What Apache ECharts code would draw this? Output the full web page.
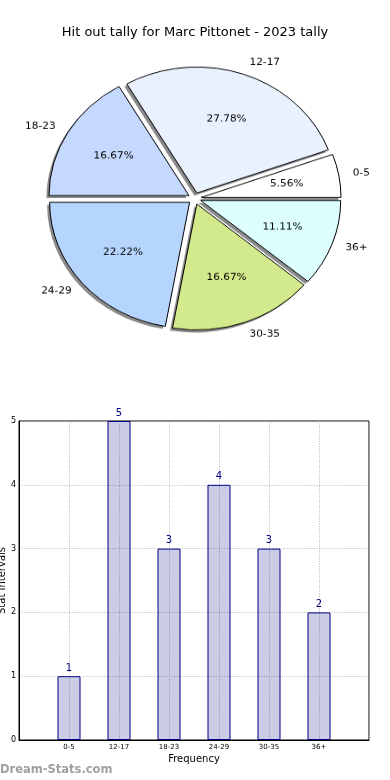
<!DOCTYPE html>
<html>
<head>
<meta charset="utf-8">
<script src="https://cdn.jsdelivr.net/npm/echarts@6/dist/echarts.min.js"></script>
<style>
html,body{margin:0;padding:0;background:#fff;}
#main{position:absolute;left:0;top:0;width:390px;height:780px;}
#pie{position:absolute;left:0;top:0;width:390px;height:400px;transform:scaleY(0.9);transform-origin:194.6px 198.5px;}
</style>
</head>
<body>
<div id="main"></div>
<div id="pie"></div>
<script>
// ---- data ----
const titleText = 'Hit out tally for Marc Pittonet - 2023 tally';
const categories = ['0-5', '12-17', '18-23', '24-29', '30-35', '36+'];
const values = [1, 5, 3, 4, 3, 2];
const yTicks = [0, 1, 2, 3, 4, 5];
const sliceColors = ['#ffffff', '#eaf1fe', '#c5d8fe', '#b5d5ff', '#d2ea8b', '#dcfffe'];

const FONT = 'DejaVu Sans';
const total = values.reduce((a, b) => a + b, 0);

// ---- pie chart ----
const pie = echarts.init(document.getElementById('pie'), null, {renderer: 'canvas'});
const R = 140;
const CX = 194.6, CY = 198.5, OFF = 6.5;
const shadowData = categories.map((c, i) => ({name: c, value: values[i], selected: true}));
const pieData = categories.map((c, i) => ({
  name: c, value: values[i], selected: true,
  itemStyle: {color: sliceColors[i]},
  select: {itemStyle: {color: sliceColors[i], borderColor: '#000', borderWidth: 1}}
}));
const pctData = categories.map((c, i) => ({name: c, value: values[i], selected: true}));
const common = {
  type: 'pie', startAngle: 0, clockwise: false,
  selectedMode: 'multiple', selectedOffset: OFF,
  avoidLabelOverlap: false, silent: true,
  emphasis: {disabled: true}
};
pie.setOption({
  animation: false,
  series: [
    Object.assign({}, common, {
      center: [CX - 2.5, CY + 2.8],
      radius: [0, R],
      itemStyle: {color: '#8a8a8a', borderWidth: 0},
      select: {itemStyle: {color: '#8a8a8a', borderWidth: 0}},
      label: {show: false}, labelLine: {show: false},
      data: shadowData
    }),
    Object.assign({}, common, {
      center: [CX, CY],
      radius: [0, R],
      itemStyle: {borderColor: '#000', borderWidth: 1},
      label: {
        show: true, position: 'outside', color: '#000', fontFamily: FONT, fontSize: 10.5,
        distanceToLabelLine: 0, formatter: '{b}'
      },
      labelLine: {show: false, length: R * 0.1, length2: 0},
      data: pieData
    }),
    Object.assign({}, common, {
      center: [CX, CY],
      radius: [0, R * 1.2],
      itemStyle: {color: 'rgba(0,0,0,0)', borderWidth: 0},
      select: {itemStyle: {color: 'rgba(0,0,0,0)', borderWidth: 0}},
      label: {
        show: true, position: 'inside', color: '#000', fontFamily: FONT, fontSize: 10.5,
        formatter: p => (p.value / total * 100).toFixed(2) + '%'
      },
      labelLine: {show: false},
      data: pctData
    })
  ]
});

// ---- main (title + bar chart) ----
const main = echarts.init(document.getElementById('main'), null, {renderer: 'canvas'});
const gridLine = {show: true, lineStyle: {color: '#b8b8b8', width: 1, type: [1, 1.5]}};
main.setOption({
  animation: false,
  title: {
    text: titleText, left: 'center', top: 21,
    textStyle: {fontFamily: FONT, fontSize: 13, fontWeight: 'normal', color: '#000'}
  },
  graphic: [{
    type: 'text', left: 0, top: 764,
    style: {text: 'Dream-Stats.com', fill: '#a0a0a0', font: 'bold 11.5px "DejaVu Sans"'}
  }],
  grid: {
    left: 19, right: 21, top: 421, bottom: 40, containLabel: false, outerBoundsMode: 'none',
    show: true, borderColor: '#000', borderWidth: 1, backgroundColor: 'transparent'
  },
  xAxis: {
    type: 'value', min: -1, max: 6, interval: 1,
    name: 'Frequency', nameLocation: 'middle', nameGap: 14, nameMoveOverlap: false,
    nameTextStyle: {fontFamily: FONT, fontSize: 10, color: '#000'},
    axisLine: {show: true, onZero: false, lineStyle: {color: '#000', width: 1}},
    axisTick: {show: false},
    axisLabel: {
      fontFamily: FONT, fontSize: 7, color: '#000', margin: 4,
      formatter: v => (Number.isInteger(v) && v >= 0 && v < categories.length) ? categories[v] : ''
    },
    splitLine: gridLine
  },
  yAxis: {
    type: 'value', min: yTicks[0], max: yTicks[yTicks.length - 1], interval: 1,
    name: 'Stat Intervals', nameLocation: 'middle', nameGap: 12, nameRotate: 90, nameMoveOverlap: false,
    nameTextStyle: {fontFamily: FONT, fontSize: 10, color: '#000'},
    axisLine: {show: true, onZero: false, lineStyle: {color: '#000', width: 1}},
    axisTick: {show: false},
    axisLabel: {fontFamily: FONT, fontSize: 8, color: '#000', margin: 3},
    splitLine: gridLine
  },
  series: [{
    type: 'bar',
    barWidth: 23,
    data: values.map((v, i) => [i, v]),
    itemStyle: {color: 'rgba(0,0,128,0.2)', borderColor: '#000080', borderWidth: 1},
    label: {show: true, position: 'top', distance: 3, color: '#000080', fontFamily: FONT, fontSize: 10},
    emphasis: {disabled: true}
  }]
});
</script>
</body>
</html>
